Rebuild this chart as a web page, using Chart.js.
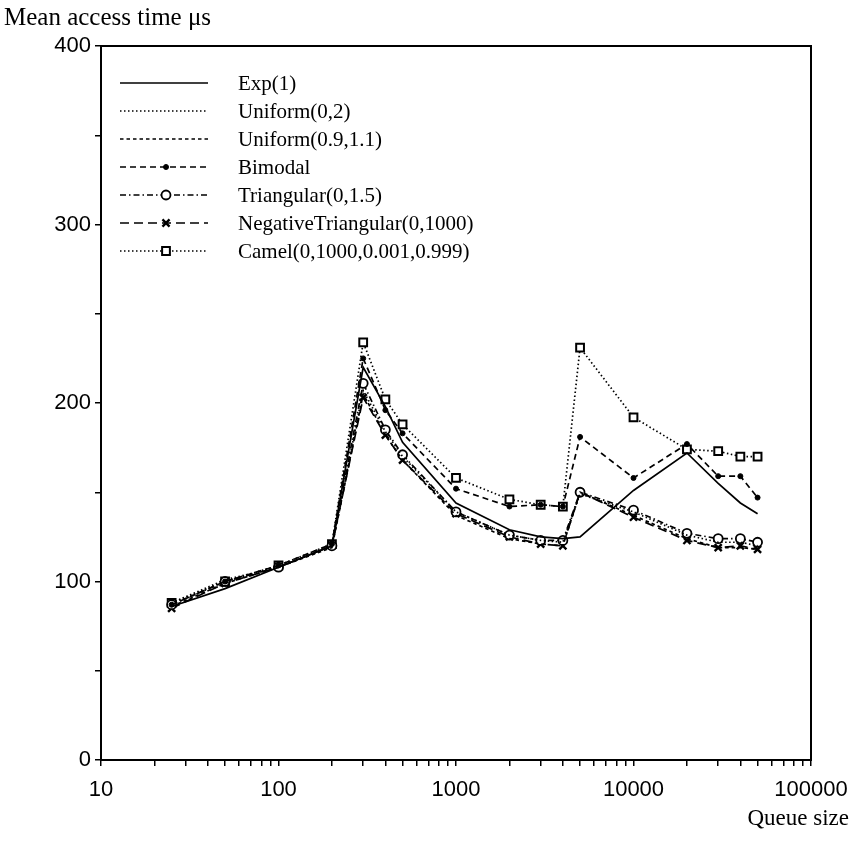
<!DOCTYPE html>
<html>
<head>
<meta charset="utf-8">
<script src="https://cdn.jsdelivr.net/npm/chart.js@4/dist/chart.umd.min.js"></script>
<style>
  html, body { margin: 0; padding: 0; background: #fff; }
  canvas { display: block; }
</style>
</head>
<body>
<canvas id="myChart" width="864" height="855"></canvas>
<script>
// queue sizes (x, log scale)
const queueSizes = [25, 50, 100, 200, 300, 400, 500, 1000, 2000, 3000, 4000, 5000, 10000, 20000, 30000, 40000, 50000];

// mean access time (us) per distribution
const expValues        = [86, 96, 108, 120, 220, 198, 178, 144, 129, 125, 124, 125, 151, 172, 155, 144, 138];
const uniform02Values  = [88, 101, 108, 120, 207, 184, 170, 139, 126, 123, 122, 149, 139, 126, 122, 122, 120];
const uniform0911Values= [86, 99, 108, 119, 205, 182, 168, 137, 124, 121, 120, 150, 137, 124, 119, 119, 118];
const bimodalValues    = [87, 100, 109, 121, 225, 196, 183, 152, 142, 143, 142, 181, 158, 177, 159, 159, 147];
const triangularValues = [87, 100, 108, 120, 211, 185, 171, 139, 126, 123, 123, 150, 140, 127, 124, 124, 122];
const negTriValues     = [85, 99, 108, 120, 203, 182, 168, 138, 125, 121, 120, 150, 136, 123, 119, 120, 118];
const camelValues      = [88, 100, 109, 121, 234, 202, 188, 158, 146, 143, 142, 231, 192, 174, 173, 170, 170];

const seriesNames = ["Exp(1)", "Uniform(0,2)", "Uniform(0.9,1.1)", "Bimodal",
  "Triangular(0,1.5)", "NegativeTriangular(0,1000)", "Camel(0,1000,0.001,0.999)"];

// axis ticks
const xDecades = [10, 100, 1000, 10000, 100000];
const yTicks = [0, 50, 100, 150, 200, 250, 300, 350, 400];

function pts(vals) {
  return vals.map((v, i) => ({ x: queueSizes[i], y: v }));
}

// x ticks: decades plus 2..9 minor ticks
const xTickValues = [];
xDecades.forEach((d, i) => {
  xTickValues.push(d);
  if (i < xDecades.length - 1) {
    for (let k = 2; k <= 9; k++) xTickValues.push(d * k);
  }
});

const base = { borderColor: "#000", backgroundColor: "#000", borderWidth: 1.7, fill: false, tension: 0 };

const datasets = [
  Object.assign({}, base, { label: seriesNames[0], data: pts(expValues), pointRadius: 0 }),
  Object.assign({}, base, { label: seriesNames[1], data: pts(uniform02Values), pointRadius: 0, borderDash: [1.5, 2.5] }),
  Object.assign({}, base, { label: seriesNames[2], data: pts(uniform0911Values), pointRadius: 0, borderDash: [3.5, 3] }),
  Object.assign({}, base, { label: seriesNames[3], data: pts(bimodalValues), borderDash: [6, 4],
    pointStyle: "circle", pointRadius: 2.5, pointBackgroundColor: "#000", pointBorderWidth: 1 }),
  Object.assign({}, base, { label: seriesNames[4], data: pts(triangularValues), borderDash: [6, 3, 1.5, 3],
    pointStyle: "circle", pointRadius: 4.5, pointBackgroundColor: "#fff", pointBorderWidth: 1.8 }),
  Object.assign({}, base, { label: seriesNames[5], data: pts(negTriValues), borderDash: [9, 5],
    pointStyle: "crossRot", pointRadius: 5, pointBorderWidth: 2.4 }),
  Object.assign({}, base, { label: seriesNames[6], data: pts(camelValues), borderDash: [1.5, 2.5],
    pointStyle: "rect", pointRadius: 5.5, pointBackgroundColor: "#fff", pointBorderWidth: 2 }),
];

// frame, titles and the line-sample legend
const decorPlugin = {
  id: "decor",
  afterDatasetsDraw(chart) {
    const ctx = chart.ctx;
    const a = chart.chartArea;
    ctx.save();
    // legend
    chart.data.datasets.forEach((ds, i) => {
      const y = 83 + i * 28;
      ctx.strokeStyle = "#000";
      ctx.lineWidth = ds.borderWidth;
      ctx.setLineDash(ds.borderDash || []);
      ctx.beginPath();
      ctx.moveTo(120, y);
      ctx.lineTo(208, y);
      ctx.stroke();
      ctx.setLineDash([]);
      if (ds.pointRadius) {
        ctx.fillStyle = ds.pointBackgroundColor || "#000";
        ctx.lineWidth = ds.pointBorderWidth;
        Chart.helpers.drawPoint(ctx, { pointStyle: ds.pointStyle, radius: ds.pointRadius,
          borderWidth: ds.pointBorderWidth, rotation: 0 }, 166, y);
      }
      ctx.fillStyle = "#000";
      ctx.font = '21px "Liberation Serif"';
      ctx.textBaseline = "middle";
      ctx.textAlign = "left";
      ctx.fillText(ds.label, 238, y + 1);
    });
    // frame
    ctx.lineWidth = 2;
    ctx.strokeStyle = "#000";
    ctx.strokeRect(a.left, a.top, a.right - a.left, a.bottom - a.top);
    // axis titles
    ctx.font = '25px "Liberation Serif"';
    ctx.textBaseline = "middle";
    ctx.textAlign = "left";
    ctx.fillText("Mean access time μs", 4, 18);
    ctx.font = '23px "Liberation Serif"';
    ctx.textAlign = "right";
    ctx.fillText("Queue size", 849, 819);
    ctx.restore();
  }
};

const ctx = document.getElementById("myChart").getContext("2d");
const myChart = new Chart(ctx, {
  type: "line",
  data: { datasets: datasets },
  options: {
    responsive: false,
    animation: false,
    devicePixelRatio: 1,
    layout: { padding: { top: 46, right: 53, left: 0, bottom: 0 } },
    plugins: { legend: { display: false }, tooltip: { enabled: false } },
    scales: {
      x: {
        type: "logarithmic",
        min: 10,
        max: 100000,
        afterFit: (s) => { s.height = 95; },
        afterBuildTicks: (s) => { s.ticks = xTickValues.map(v => ({ value: v, major: xDecades.includes(v) })); },
        grid: { drawOnChartArea: false, drawTicks: true, tickLength: 6, color: "#000", lineWidth: 1.5 },
        border: { display: true, color: "#000", width: 2 },
        ticks: {
          autoSkip: false, maxRotation: 0, color: "#000", padding: 11,
          font: { family: '"Liberation Sans"', size: 22 },
          callback: (v) => xDecades.includes(v) ? String(v) : ""
        }
      },
      y: {
        min: 0,
        max: 400,
        afterFit: (s) => { s.width = 101; },
        afterBuildTicks: (s) => { s.ticks = yTicks.map(v => ({ value: v })); },
        grid: { drawOnChartArea: false, drawTicks: true, tickLength: 6, color: "#000", lineWidth: 1.5 },
        border: { display: true, color: "#000", width: 2 },
        ticks: {
          color: "#000", padding: 4,
          font: { family: '"Liberation Sans"', size: 22 },
          callback: (v) => v % 100 === 0 ? String(v) : ""
        }
      }
    }
  },
  plugins: [decorPlugin]
});
</script>
</body>
</html>
